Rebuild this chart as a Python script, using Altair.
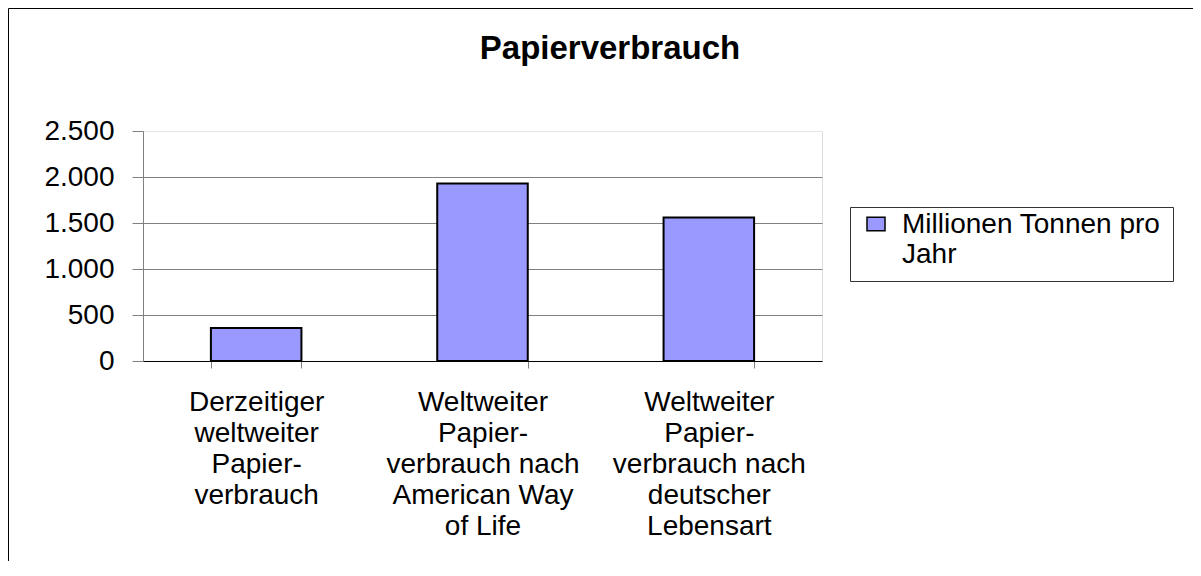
import altair as alt
import pandas as pd

categories = [
    "Derzeitiger\nweltweiter\nPapier-\nverbrauch",
    "Weltweiter\nPapier-\nverbrauch nach\nAmerican Way\nof Life",
    "Weltweiter\nPapier-\nverbrauch nach\ndeutscher\nLebensart",
]
values = [360, 1930, 1560]
series = ["Millionen Tonnen pro Jahr"]
y_ticks = [0, 500, 1000, 1500, 2000, 2500]

df = pd.DataFrame({"cat": categories, "val": values, "series": series * len(categories)})

FONT = "Liberation Sans"
W, H = 679, 230

bars = alt.Chart(df).mark_bar(stroke="black", strokeWidth=2).encode(
    x=alt.X(
        "cat:N",
        sort=categories,
        scale=alt.Scale(paddingInner=0.6, paddingOuter=0.3),
        axis=alt.Axis(
            title=None,
            labelAngle=0,
            labelExpr="split(datum.label, '\\n')",
            labelFont=FONT,
            labelFontSize=28,
            labelLineHeight=31,
            labelColor="black",
            labelPadding=20,
            labelLimit=0,
            labelBaseline="top",
            tickBand="extent",
            tickSize=7,
            tickColor="#808080",
            domainColor="black",
            domainWidth=1,
            grid=False,
        ),
    ),
    y=alt.Y(
        "val:Q",
        scale=alt.Scale(domain=[0, 2500], nice=False),
        axis=alt.Axis(
            title=None,
            values=y_ticks,
            labelExpr="replace(format(datum.value, ','), ',', '.')",
            labelFont=FONT,
            labelFontSize=28,
            labelColor="black",
            labelPadding=18,
            tickSize=11,
            tickColor="#808080",
            domainColor="#808080",
            grid=True,
            gridColor=alt.condition("datum.value == 2500", alt.value("#e6e6e6"), alt.value("#808080")),
            gridWidth=1,
        ),
    ),
    color=alt.Color(
        "series:N",
        scale=alt.Scale(range=["#9999FF"]),
        legend=alt.Legend(
            title=None,
            orient="none",
            legendX=707,
            legendY=76,
            labelExpr="['Millionen Tonnen pro', 'Jahr']",
            labelFont=FONT,
            labelFontSize=28,
            labelColor="black",
            labelBaseline="alphabetic",
            labelOffset=12,
            labelLimit=0,
            symbolType="M-1.2,-2.1H1.2V-0.3H-1.2Z",
            symbolSize=225,
            symbolStrokeColor="black",
            symbolStrokeWidth=1.5,
            strokeColor="#333333",
            padding=12,
        ),
    ),
)

frame = alt.Chart(alt.Data(values=[{}])).mark_rect(
    filled=False, stroke="black", strokeWidth=1
).encode(
    x=alt.value(-134.5),
    x2=alt.value(1200),
    y=alt.value(-122.5),
    y2=alt.value(700),
)

chart = alt.layer(frame, bars).properties(
    width=W,
    height=H,
    autosize=alt.AutoSizeParams(type="none"),
    padding={"left": 135, "top": 123, "right": 371, "bottom": 200},
    title=alt.TitleParams(
        "Papierverbrauch",
        font=FONT,
        fontSize=33,
        fontWeight="bold",
        color="black",
        anchor="middle",
        frame="group",
        dx=127.5,
        offset=-84,
        baseline="alphabetic",
    ),
).configure_view(stroke=None).configure(background="white")

chart.save("out.html", embed_options={"renderer": "svg", "actions": False})
